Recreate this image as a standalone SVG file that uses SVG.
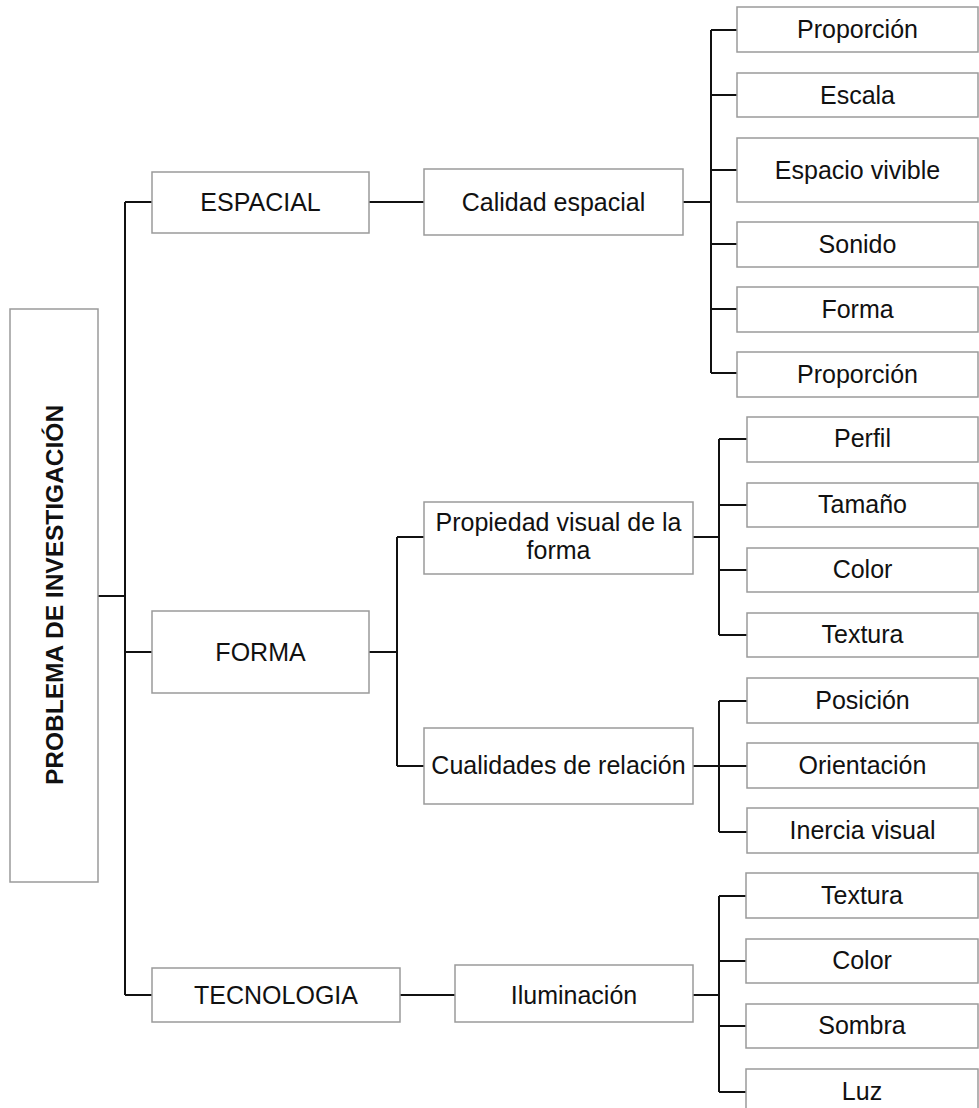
<svg xmlns="http://www.w3.org/2000/svg" width="979" height="1108" viewBox="0 0 979 1108">
  <style>
    .box { fill: #ffffff; stroke: #9a9a9a; stroke-width: 1.5; }
    .lbl { font-family: "Liberation Sans", Arial, sans-serif; font-size: 25px; fill: #111111; text-anchor: middle; }
    .root { font-family: "Liberation Sans", Arial, sans-serif; font-size: 24.5px; font-weight: bold; fill: #111111; text-anchor: middle; }
    .wire { fill: none; stroke: #111111; stroke-width: 2; }
  </style>
  <rect width="979" height="1108" fill="#ffffff"/>

  <!-- connectors -->
  <g id="connectors" class="wire">
    <!-- root to level 1 -->
    <path d="M98 596 H125 M125 202 V995 M125 202 H152 M125 652 H152 M125 995 H152"/>
    <!-- ESPACIAL -->
    <path d="M369 202 H424 M683 202 H711 M711 30 V373"/>
    <path d="M711 30 H737 M711 95 H737 M711 170 H737 M711 244 H737 M711 309 H737 M711 373 H737"/>
    <!-- FORMA -->
    <path d="M369 652 H397 M397 537 V766 M397 537 H424 M397 766 H424"/>
    <path d="M693 537 H719 M719 439 V635 M719 439 H747 M719 505 H747 M719 570 H747 M719 635 H747"/>
    <path d="M693 766 H719 M719 701 V832 M719 701 H747 M719 766 H747 M719 832 H747"/>
    <!-- TECNOLOGIA -->
    <path d="M400 995 H455 M693 995 H719 M719 896 V1092"/>
    <path d="M719 896 H746 M719 961 H746 M719 1026 H746 M719 1092 H746"/>
  </g>

  <!-- root -->
  <g id="n-problema">
    <rect class="box" x="10" y="309" width="88" height="573"/>
    <text class="root" transform="translate(62.5 595) rotate(-90)">PROBLEMA DE INVESTIGACIÓN</text>
  </g>

  <!-- level 1 -->
  <g id="n-espacial">
    <rect class="box" x="152" y="172" width="217" height="61"/>
    <text class="lbl" x="260.5" y="211">ESPACIAL</text>
  </g>
  <g id="n-forma">
    <rect class="box" x="152" y="611" width="217" height="82"/>
    <text class="lbl" x="260.5" y="661">FORMA</text>
  </g>
  <g id="n-tecnologia">
    <rect class="box" x="152" y="968" width="248" height="54"/>
    <text class="lbl" x="276" y="1004">TECNOLOGIA</text>
  </g>

  <!-- level 2 -->
  <g id="n-calidad">
    <rect class="box" x="424" y="169" width="259" height="66"/>
    <text class="lbl" x="553.5" y="211">Calidad espacial</text>
  </g>
  <g id="n-propiedad">
    <rect class="box" x="424" y="502" width="269" height="72"/>
    <text class="lbl" x="558.5" y="531">Propiedad visual de la</text>
    <text class="lbl" x="558.5" y="559">forma</text>
  </g>
  <g id="n-cualidades">
    <rect class="box" x="424" y="728" width="269" height="76"/>
    <text class="lbl" x="558.5" y="774">Cualidades de relación</text>
  </g>
  <g id="n-iluminacion">
    <rect class="box" x="455" y="965" width="238" height="57"/>
    <text class="lbl" x="574" y="1004">Iluminación</text>
  </g>

  <!-- level 3: ESPACIAL -->
  <g id="n-proporcion-1">
    <rect class="box" x="737" y="7" width="241" height="45"/>
    <text class="lbl" x="857.5" y="38">Proporción</text>
  </g>
  <g id="n-escala">
    <rect class="box" x="737" y="73" width="241" height="44"/>
    <text class="lbl" x="857.5" y="104">Escala</text>
  </g>
  <g id="n-espacio">
    <rect class="box" x="737" y="138" width="241" height="64"/>
    <text class="lbl" x="857.5" y="179">Espacio vivible</text>
  </g>
  <g id="n-sonido">
    <rect class="box" x="737" y="222" width="241" height="45"/>
    <text class="lbl" x="857.5" y="253">Sonido</text>
  </g>
  <g id="n-forma-2">
    <rect class="box" x="737" y="287" width="241" height="45"/>
    <text class="lbl" x="857.5" y="318">Forma</text>
  </g>
  <g id="n-proporcion-2">
    <rect class="box" x="737" y="352" width="241" height="45"/>
    <text class="lbl" x="857.5" y="383">Proporción</text>
  </g>

  <!-- level 3: Propiedad visual -->
  <g id="n-perfil">
    <rect class="box" x="747" y="417" width="231" height="45"/>
    <text class="lbl" x="862.5" y="447">Perfil</text>
  </g>
  <g id="n-tamano">
    <rect class="box" x="747" y="483" width="231" height="44"/>
    <text class="lbl" x="862.5" y="513">Tamaño</text>
  </g>
  <g id="n-color-1">
    <rect class="box" x="747" y="548" width="231" height="44"/>
    <text class="lbl" x="862.5" y="578">Color</text>
  </g>
  <g id="n-textura-1">
    <rect class="box" x="747" y="613" width="231" height="44"/>
    <text class="lbl" x="862.5" y="643">Textura</text>
  </g>

  <!-- level 3: Cualidades de relación -->
  <g id="n-posicion">
    <rect class="box" x="747" y="678" width="231" height="45"/>
    <text class="lbl" x="862.5" y="709">Posición</text>
  </g>
  <g id="n-orientacion">
    <rect class="box" x="747" y="743" width="231" height="45"/>
    <text class="lbl" x="862.5" y="774">Orientación</text>
  </g>
  <g id="n-inercia">
    <rect class="box" x="747" y="808" width="231" height="45"/>
    <text class="lbl" x="862.5" y="839">Inercia visual</text>
  </g>

  <!-- level 3: Iluminación -->
  <g id="n-textura-2">
    <rect class="box" x="746" y="873" width="232" height="45"/>
    <text class="lbl" x="862" y="904">Textura</text>
  </g>
  <g id="n-color-2">
    <rect class="box" x="746" y="939" width="232" height="44"/>
    <text class="lbl" x="862" y="969">Color</text>
  </g>
  <g id="n-sombra">
    <rect class="box" x="746" y="1004" width="232" height="44"/>
    <text class="lbl" x="862" y="1034">Sombra</text>
  </g>
  <g id="n-luz">
    <rect class="box" x="746" y="1069" width="232" height="50"/>
    <text class="lbl" x="862" y="1100">Luz</text>
  </g>
</svg>
